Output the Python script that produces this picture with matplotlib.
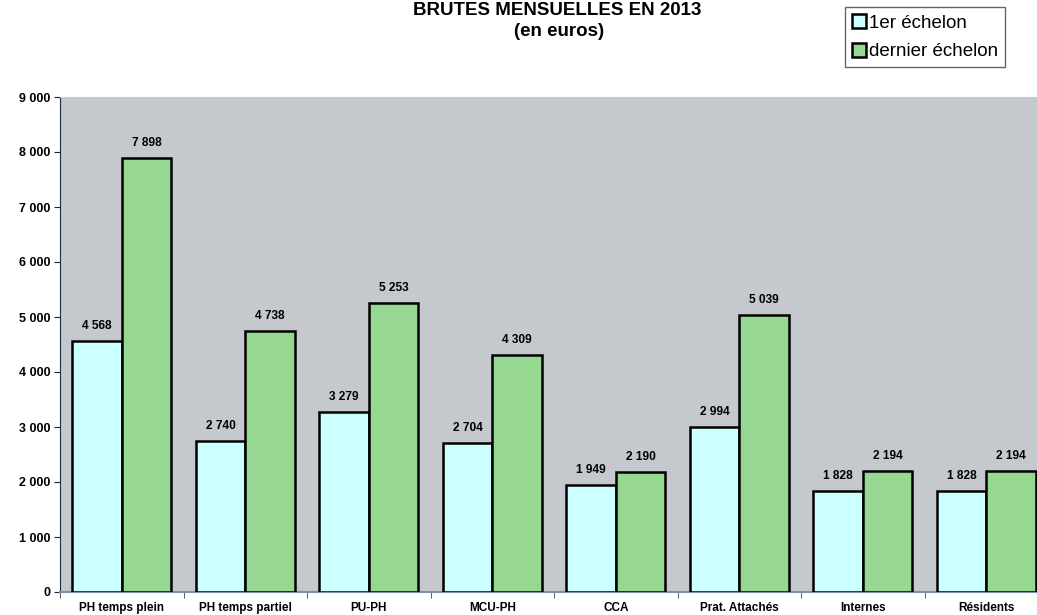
import matplotlib.pyplot as plt
import numpy as np

# data
categories = ["PH temps plein", "PH temps partiel", "PU-PH", "MCU-PH", "CCA",
              "Prat. Attachés", "Internes", "Résidents"]
premier = [4568, 2740, 3279, 2704, 1949, 2994, 1828, 1828]
dernier = [7898, 4738, 5253, 4309, 2190, 5039, 2194, 2194]
yticks = [0, 1000, 2000, 3000, 4000, 5000, 6000, 7000, 8000, 9000]


def fmt(v):
    return "{:,}".format(int(v)).replace(",", " ")


plt.rcParams['font.family'] = ['Liberation Sans', 'DejaVu Sans']

fig = plt.figure(figsize=(10.37, 6.15), dpi=100)
W, H = 1037, 615
# plot area: x 60 -> ~1048 px (cut by the image edge), y 97 -> 592 px
ax = fig.add_axes([60 / W, (H - 592) / H, 988 / W, 495 / H])
ax.set_facecolor('#C5C8CC')

x = np.arange(len(categories))
w = 0.4
b1 = ax.bar(x - w / 2, premier, w, color='#CCFFFF', edgecolor='black',
            linewidth=1.8, label='1er échelon', zorder=3)
b2 = ax.bar(x + w / 2, dernier, w, color='#96D891', edgecolor='black',
            linewidth=1.8, label='dernier échelon', zorder=3)

for bars, vals in ((b1, premier), (b2, dernier)):
    for r, v in zip(bars, vals):
        ax.annotate(fmt(v), (r.get_x() + r.get_width() / 2, v),
                    xytext=(0, 6.5), textcoords='offset points',
                    ha='center', va='bottom', fontsize=8.6,
                    fontweight='bold')

ax.set_xlim(-0.5, len(categories) - 0.5)
ax.set_ylim(0, 9000)
ax.set_yticks(yticks)
ax.set_yticklabels([fmt(t) for t in yticks], fontsize=9, fontweight='bold')
ax.set_xticks(x)
ax.set_xticklabels(categories, fontsize=8.5, fontweight='bold')
ax.tick_params(axis='x', which='major', length=0, pad=7)
ax.set_xticks(np.arange(-0.5, len(categories), 1), minor=True)
ax.tick_params(axis='x', which='minor', length=4, direction='out',
               color='#404040')
ax.tick_params(axis='y', length=4, direction='out', pad=3, color='#202040')

ax.spines['top'].set_color('#B8CCE4')
ax.spines['left'].set_color('#1F2A44')
ax.spines['bottom'].set_color('#7F8FA6')
ax.spines['bottom'].set_linewidth(1.5)
ax.spines['right'].set_visible(False)

fig.text(557 / W, 1 - 15 / H, "BRUTES MENSUELLES EN 2013", ha='center',
         va='baseline', fontsize=13.5, fontweight='bold')
fig.text(559 / W, 1 - 32 / H, "(en euros)", ha='center', va='center',
         fontsize=13.5, fontweight='bold')

leg = fig.legend(handles=[b1, b2], loc='upper left',
                 bbox_to_anchor=(845 / W, 1 - 7 / H), fontsize=13.5,
                 frameon=True, fancybox=False, edgecolor='#404040',
                 handlelength=0.75, handleheight=0.75, handletextpad=0.15,
                 borderpad=0.38, labelspacing=0.6, borderaxespad=0)
leg.get_frame().set_linewidth(1.0)

fig.savefig("out.png", dpi=100)
